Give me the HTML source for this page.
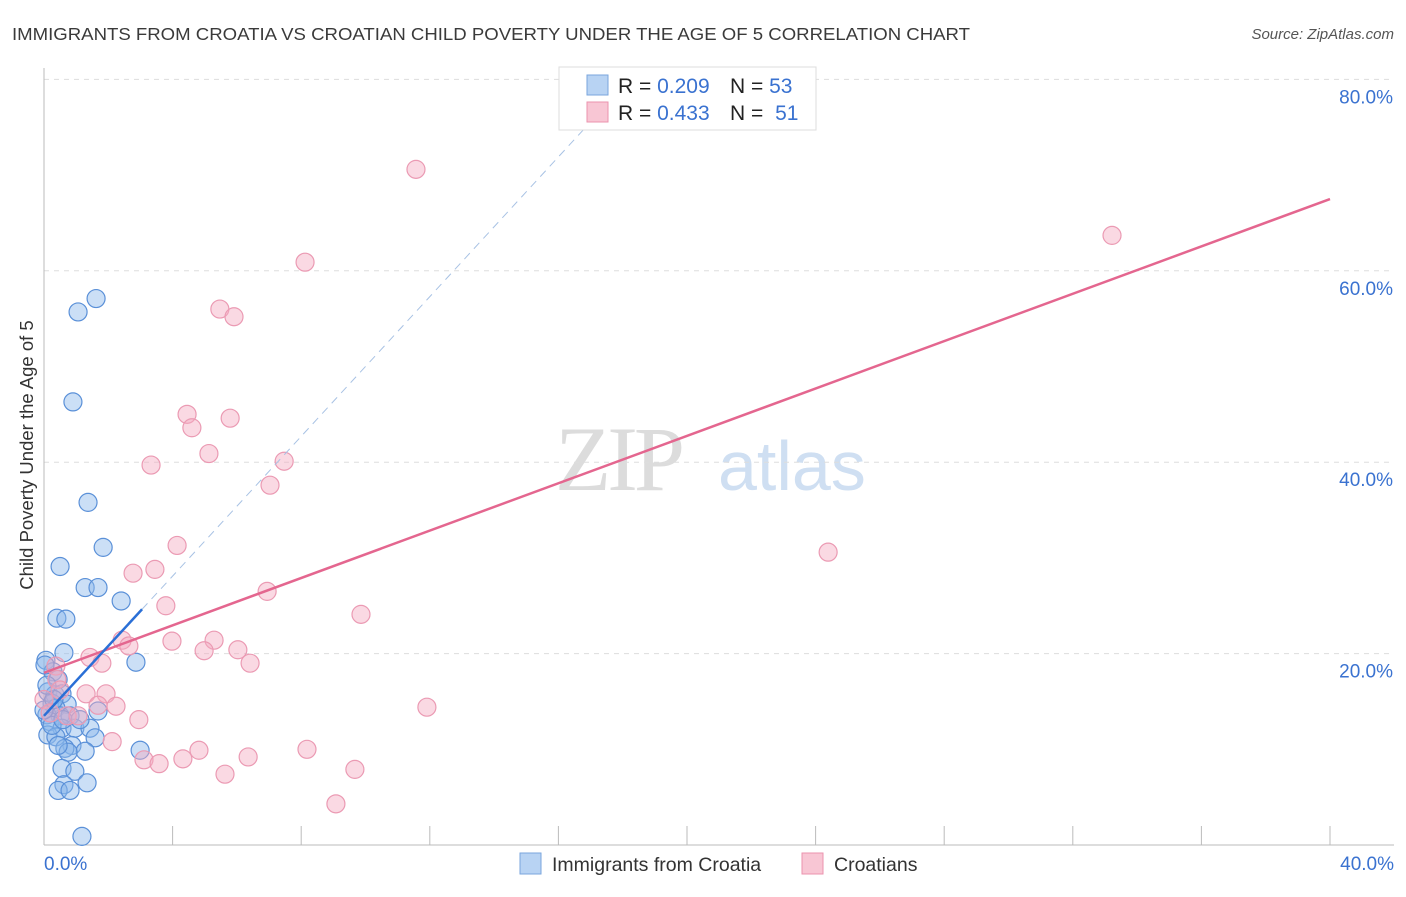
<!DOCTYPE html>
<html><head><meta charset="utf-8"><style>
body{margin:0;background:#fff;font-family:"Liberation Sans",sans-serif}
</style></head><body>
<svg id="chart" width="1406" height="892" xmlns="http://www.w3.org/2000/svg">
<text x="12" y="40" font-size="17.5" fill="#3a3a3a" textLength="958" lengthAdjust="spacingAndGlyphs">IMMIGRANTS FROM CROATIA VS CROATIAN CHILD POVERTY UNDER THE AGE OF 5 CORRELATION CHART</text>
<text x="1394" y="39" font-size="15" fill="#555" font-style="italic" text-anchor="end">Source: ZipAtlas.com</text>
<g>
<text x="555" y="490" font-size="92" font-family="Liberation Serif,serif" fill="#dcdcdc" letter-spacing="-4">ZIP</text>
<text x="718" y="490" font-size="70" fill="#cfdff2">atlas</text>
</g>
<g id="grid"></g>
<g id="axes"></g>
<g id="marks"></g>
<text transform="translate(33,455) rotate(-90)" font-size="18.5" fill="#333" text-anchor="middle">Child Poverty Under the Age of 5</text>
<g>
<rect x="559" y="67" width="257" height="63" fill="#fff" stroke="#ddd"/>
<rect x="587" y="75" width="21" height="20" fill="#b8d3f3" stroke="#7aa6dc"/>
<rect x="587" y="102" width="21" height="20" fill="#f8c6d4" stroke="#eb93ae"/>
<text x="618" y="93" font-size="21" fill="#222">R = <tspan fill="#3a72d0">0.209</tspan><tspan x="730">N = </tspan><tspan fill="#3a72d0">53</tspan></text>
<text x="618" y="120" font-size="21" fill="#222">R = <tspan fill="#3a72d0">0.433</tspan><tspan x="730">N = </tspan><tspan fill="#3a72d0" dx="6">51</tspan></text>
</g>
<g>
<rect x="520" y="853" width="21" height="21" fill="#b8d3f3" stroke="#7aa6dc"/>
<text x="552" y="871" font-size="19.5" fill="#333">Immigrants from Croatia</text>
<rect x="802" y="853" width="21" height="21" fill="#f8c6d4" stroke="#eb93ae"/>
<text x="834" y="871" font-size="19.5" fill="#333">Croatians</text>
</g>
</svg>
<script>
const yTicks=[20,40,60,80];
const yTickLabels=["20.0%","40.0%","60.0%","80.0%"];
const xTickVals=[0,4,8,12,16,20,24,28,32,36,40];
const xEndLabels=["0.0%","40.0%"];
const blueX=[1.62,1.06,0.90,1.37,1.84,0.50,1.28,1.68,2.40,0.40,0.68,0.62,2.86,0.06,0.28,0.44,0.12,0.34,0.56,0.25,0.72,1.68,0.37,0.09,0.50,0.81,0.19,0.56,0.96,1.43,0.12,0.37,1.59,0.87,0.65,1.28,2.99,0.75,0.56,0.96,0.62,1.34,0.44,0.81,1.18,0.03,0.25,0.44,0.0,0.59,1.12,0.31,0.09];
const blueY=[57.1,55.7,46.3,35.8,31.1,29.1,26.9,26.9,25.5,23.7,23.6,20.1,19.1,19.3,18.1,17.3,16.0,15.7,15.8,14.8,14.7,14.0,14.3,13.6,13.5,13.5,12.9,12.2,12.2,12.2,11.5,11.3,11.2,10.4,10.1,9.8,9.9,9.7,8.0,7.7,6.3,6.5,5.7,5.7,0.9,18.8,12.5,10.4,14.1,13.1,13.1,15.2,16.7];
const pinkX=[11.57,33.22,8.12,5.47,5.91,4.45,4.60,5.79,5.13,3.33,7.47,7.03,4.14,24.39,2.77,3.45,3.79,6.94,9.86,2.43,3.98,5.29,2.64,6.03,4.98,6.41,1.43,1.80,0.37,0.40,0.0,1.31,1.93,2.24,1.68,0.72,1.06,2.95,11.91,2.12,4.82,8.18,6.35,3.11,3.58,4.32,5.63,9.67,9.08,0.19,0.50];
const pinkY=[70.6,63.7,60.9,56.0,55.2,45.0,43.6,44.6,40.9,39.7,40.1,37.6,31.3,30.6,28.4,28.8,25.0,26.5,24.1,21.4,21.3,21.4,20.8,20.4,20.3,19.0,19.6,19.0,18.7,17.3,15.2,15.8,15.8,14.5,14.6,13.5,13.5,13.1,14.4,10.8,9.9,10.0,9.2,8.9,8.5,9.0,7.4,7.9,4.3,13.8,16.2];
const pinkTrend=[18.0,67.5];
const blueTrend=[13.5,3.65];
const NS="http://www.w3.org/2000/svg";
const X=v=>44+v*32.15, Y=v=>845-v*9.57;
function mk(p,t,a){const e=document.createElementNS(NS,t);for(const k in a)e.setAttribute(k,a[k]);p.appendChild(e);return e;}
const grid=document.getElementById('grid'),axes=document.getElementById('axes'),marks=document.getElementById('marks');
yTicks.forEach((v,i)=>{
 const l=mk(grid,'line',{x1:44,x2:1394,y1:Y(v),y2:Y(v),stroke:'#ddd','stroke-dasharray':'5,5'});
 
 
 const t=mk(grid,'text',{x:1393,y:Y(v)+24,'font-size':19,fill:'#3a72d0','text-anchor':'end'});
 t.textContent=yTickLabels[i];
 
 
});
const ax=mk(axes,'line',{x1:44,x2:1394,y1:845,y2:845,stroke:'#bbb'});


const ay=mk(axes,'line',{x1:44,x2:44,y1:68,y2:845,stroke:'#bbb'});


xTickVals.forEach(v=>{
 const t=mk(axes,'line',{x1:X(v),x2:X(v),y1:826,y2:845,stroke:'#bbb'});
 
 
});
const xl0=mk(axes,'text',{x:44,y:870,'font-size':19,fill:'#3a72d0'});xl0.textContent=xEndLabels[0];


const xl1=mk(axes,'text',{x:1394,y:870,'font-size':19,fill:'#3a72d0','text-anchor':'end'});xl1.textContent=xEndLabels[1];


blueX.forEach((v,i)=>{
 const c=mk(marks,'circle',{cx:X(v),cy:Y(blueY[i]),r:9,fill:'rgba(140,185,235,0.45)',stroke:'#5a90d8','stroke-width':1.2});
 
 
});
pinkX.forEach((v,i)=>{
 const c=mk(marks,'circle',{cx:X(v),cy:Y(pinkY[i]),r:9,fill:'rgba(245,170,192,0.45)',stroke:'#eb9ab3','stroke-width':1.2});
 
 
});
const pl=mk(marks,'line',{x1:X(0),y1:Y(pinkTrend[0]),x2:X(40),y2:Y(pinkTrend[1]),stroke:'#e4668f','stroke-width':2.5});


const bd=mk(marks,'line',{x1:X(3.05),y1:Y(blueTrend[0]+blueTrend[1]*3.05),x2:X(17.5),y2:Y(blueTrend[0]+blueTrend[1]*17.5),stroke:'#a8c2e4','stroke-width':1,'stroke-dasharray':'8,6'});


const bl=mk(marks,'line',{x1:X(0),y1:Y(blueTrend[0]),x2:X(3.05),y2:Y(blueTrend[0]+blueTrend[1]*3.05),stroke:'#2a6fd6','stroke-width':2.5});


</script>
</body></html>
